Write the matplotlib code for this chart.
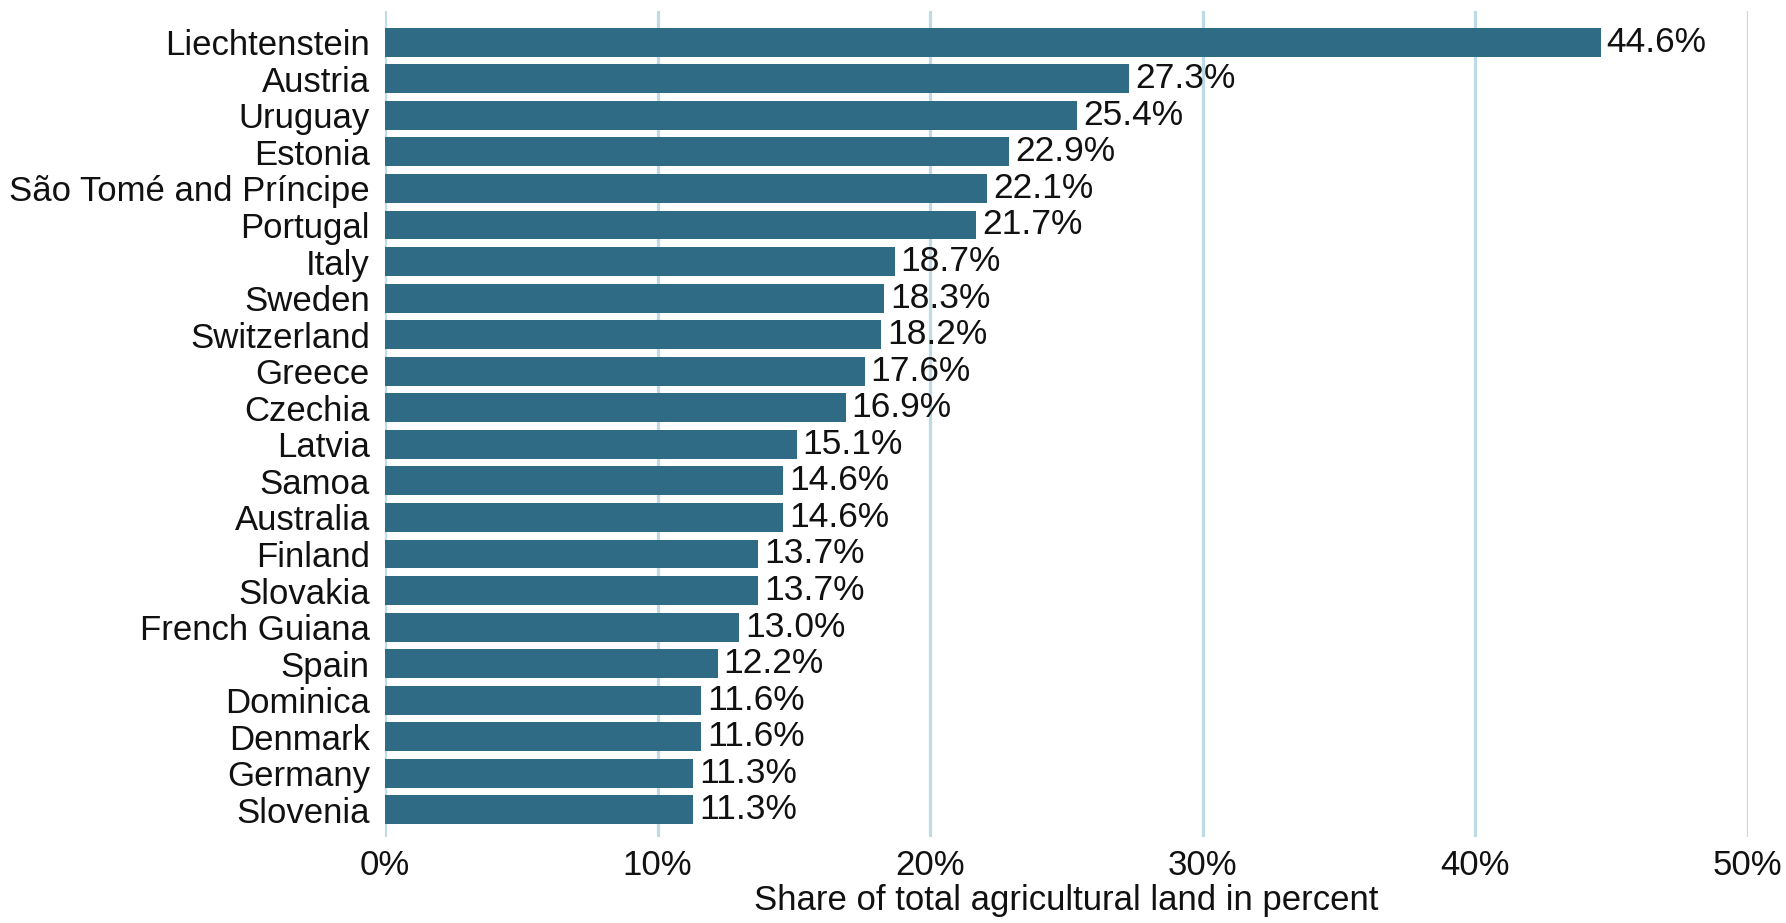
import matplotlib
matplotlib.use("Agg")
import matplotlib.pyplot as plt
from matplotlib.ticker import FuncFormatter

countries = ["Liechtenstein", "Austria", "Uruguay", "Estonia", "São Tomé and Príncipe",
             "Portugal", "Italy", "Sweden", "Switzerland", "Greece", "Czechia", "Latvia",
             "Samoa", "Australia", "Finland", "Slovakia", "French Guiana", "Spain",
             "Dominica", "Denmark", "Germany", "Slovenia"]
values = [44.6, 27.3, 25.4, 22.9, 22.1, 21.7, 18.7, 18.3, 18.2, 17.6, 16.9, 15.1,
          14.6, 14.6, 13.7, 13.7, 13.0, 12.2, 11.6, 11.6, 11.3, 11.3]
xticks = [0, 10, 20, 30, 40, 50]

plt.rcParams['font.family'] = ['Liberation Sans', 'DejaVu Sans']

fig = plt.figure(figsize=(17.86, 9.23), dpi=100)
ax = fig.add_axes([0.2156, 0.0932, 0.7630, 0.8944])

bar_color = "#2f6b84"
grid_color = "#bcdae7"

ypos = list(range(len(countries)))
ax.barh(ypos, values, height=0.79, color=bar_color, zorder=2)
for y, v in zip(ypos, values):
    ax.annotate(f"{v:.1f}%", (v, y), xytext=(6, 0), textcoords="offset pixels",
                ha="left", va="center", fontsize=25.5, color="#111111")

ax.set_xlim(0, 50)
ax.set_ylim(len(countries) - 1 + 0.74, -0.84)
ax.set_xticks(xticks)
ax.xaxis.set_major_formatter(FuncFormatter(lambda x, p: f"{x:.0f}%"))
ax.set_yticks(ypos)
ax.set_yticklabels(countries)
ax.tick_params(axis="both", length=0, labelsize=25, colors="#111111")
ax.tick_params(axis="y", pad=11)
ax.tick_params(axis="x", pad=9)
ax.xaxis.grid(True, color=grid_color, linewidth=2.3, zorder=0)
ax.set_axisbelow(True)
for s in ax.spines.values():
    s.set_visible(False)
ax.set_xlabel("Share of total agricultural land in percent", fontsize=25, color="#111111", labelpad=1)

fig.savefig("out.png", dpi=100)
